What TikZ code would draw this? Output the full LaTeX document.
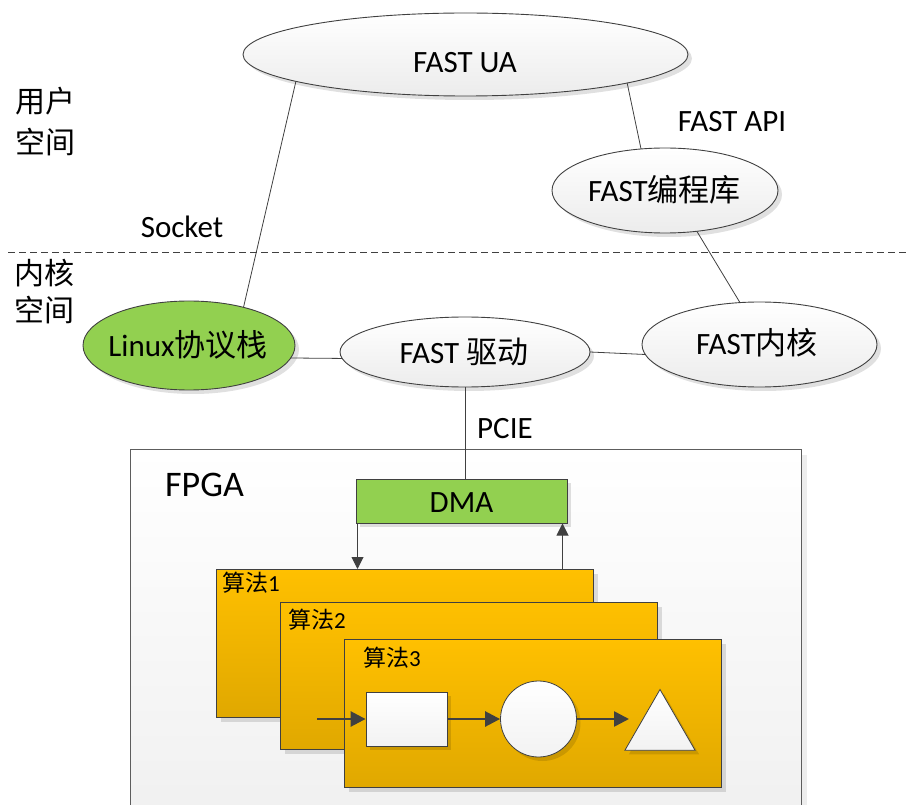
\documentclass[tikz,border=0pt]{standalone}
\usepackage{fontspec}
\setmainfont{Carlito}
\newfontfamily\cjk{Noto Sans CJK SC}
\usetikzlibrary{shapes.geometric,arrows.meta,shadows,calc}
\definecolor{lc}{HTML}{404040}
\definecolor{grn}{RGB}{146,208,80}
\definecolor{yelA}{RGB}{255,192,0}
\definecolor{yelB}{RGB}{224,168,0}
\newcommand\zh[1]{{\cjk #1}}
\newcommand\fsz[1]{\fontsize{#1}{#1}\selectfont}
\begin{document}
\begin{tikzpicture}[x=1pt,y=-1pt,
  shd/.style={drop shadow={shadow xshift=4pt, shadow yshift=-4pt, fill=black, opacity=0.12}},
  ellbase/.style={ellipse, draw=lc, line width=0.9pt, inner sep=0pt, outer sep=0pt, shd},
  ell/.style={ellbase, top color=white, bottom color=gray!15},
  conn/.style={draw=lc, line width=0.8pt},
  txt/.style={font=\fsz{31}, inner sep=0pt, anchor=base},
  cjklab/.style={font=\fsz{30}, inner sep=0pt},
  algbox/.style={draw=lc, line width=1pt, top color=yelA, bottom color=yelB, anchor=north west, inner sep=0pt, minimum width=377pt, shd},
  arr/.style={draw=lc, line width=1pt, -{Triangle[length=12pt,width=12pt]}},
  bigarr/.style={draw=lc, line width=2.6pt, -{Triangle[length=15pt,width=15pt]}}
]
\useasboundingbox (0,0) rectangle (906,805);

% FPGA frame
\node[draw=lc!85, line width=1.3pt, top color=white, bottom color=gray!12, minimum width=671pt, minimum height=380pt, anchor=north west, inner sep=0pt, drop shadow={shadow xshift=5pt, shadow yshift=-5pt, fill=black, opacity=0.07}] (fpga) at (130,449) {};
\node[font=\fsz{36}, inner sep=0pt, anchor=base west] (fpgaT) at (165,496) {FPGA};

% separator
\coordinate (sepL) at (8,252);
\coordinate (sepR) at (906,252);
\draw[lc, line width=0.8pt, dash pattern=on 7pt off 4pt] (sepL) -- (sepR);

% side labels
\node[cjklab] (u1) at (45.5,101) {\zh{用户}};
\node[cjklab] (u2) at (45.5,142) {\zh{空间}};
\node[cjklab] (k1) at (45,273) {\zh{内核}};
\node[cjklab] (k2) at (44,310) {\zh{空间}};

% ellipses
\node[ell, minimum width=445pt, minimum height=83pt] (ua) at (465.5,54.5) {};
\node[ell, minimum width=226pt, minimum height=85pt] (lib) at (665,190.5) {};
\node[ell, minimum width=235pt, minimum height=85pt] (kern) at (759.5,344.5) {};
\node[ellbase, fill=grn, minimum width=212pt, minimum height=89pt] (lin) at (189,345.5) {};
\node[ell, minimum width=250pt, minimum height=70pt] (drv) at (465,352) {};

% connectors
\draw[conn] (ua.189) -- (lin.35);
\draw[conn] (ua.350) -- (lib.120);
\draw[conn] (lib.308) -- (kern.115);
\draw[conn] (lin.353) -- (drv.183);
\draw[conn] (drv.0) -- (kern.185);

% texts
\node[txt] (uaT) at (465,73) {FAST UA};
\node[txt] (apiT) at (732,132) {FAST API};
\node[txt] (libT) at (664.5,202) {FAST\zh{编程库}};
\node[txt] (kernT) at (757,355) {FAST\zh{内核}};
\node[txt] (sockT) at (182,238) {Socket};
\node[txt] (linT) at (188,357) {Linux\zh{协议栈}};
\node[txt] (drvT) at (464,363) {FAST \zh{驱动}};
\node[txt, anchor=base west] (pcieT) at (477,438) {PCIE};

% DMA
\node[draw=lc, line width=1pt, fill=grn, minimum width=211pt, minimum height=44pt, inner sep=0pt, shd] (dma) at (461.5,501) {};
\node[txt] (dmaT) at (461.5,512) {DMA};
\draw[conn] (drv.south) -- (drv.south |- dma.north);

% algorithm boxes
\node[algbox, minimum height=148pt] (alg1) at (216,569) {};
\node[font=\fsz{23}, inner sep=0pt, anchor=west] (a1T) at (222,582.5) {\zh{算法}1};
\node[algbox, minimum height=147pt] (alg2) at (280,602) {};
\node[font=\fsz{23}, inner sep=0pt, anchor=west] (a2T) at (288,620) {\zh{算法}2};
\node[algbox, minimum height=148pt] (alg3) at (344,639) {};
\node[font=\fsz{23}, inner sep=0pt, anchor=west] (a3T) at (363,658) {\zh{算法}3};

% DMA arrows
\draw[arr] ([xshift=2pt]dma.south west) -- ([xshift=2pt]dma.south west |- alg1.north);
\draw[arr] ([xshift=-5pt]dma.south east |- alg1.north) -- ([xshift=-5pt]dma.south east);

% pipeline
\node[draw=lc, line width=0.8pt, top color=white, bottom color=gray!10, minimum width=81pt, minimum height=54pt, inner sep=0pt, shd] (sq) at (406.5,719) {};
\node[circle, draw=lc, line width=0.8pt, top color=white, bottom color=gray!10, minimum size=76pt, inner sep=0pt, shd] (circ) at (538.5,719) {};
\node[regular polygon, regular polygon sides=3, draw=lc, line width=0.8pt, top color=white, bottom color=gray!10, minimum size=81pt, inner sep=0pt, shd] (tri) at (660,730) {};
\coordinate (in0) at (317,719);
\coordinate (tipend) at (629,719);
\draw[bigarr] (in0) -- (sq.west);
\draw[bigarr] (sq.east) -- (circ.west);
\draw[bigarr] (circ.east) -- (tipend);
\end{tikzpicture}
\end{document}
